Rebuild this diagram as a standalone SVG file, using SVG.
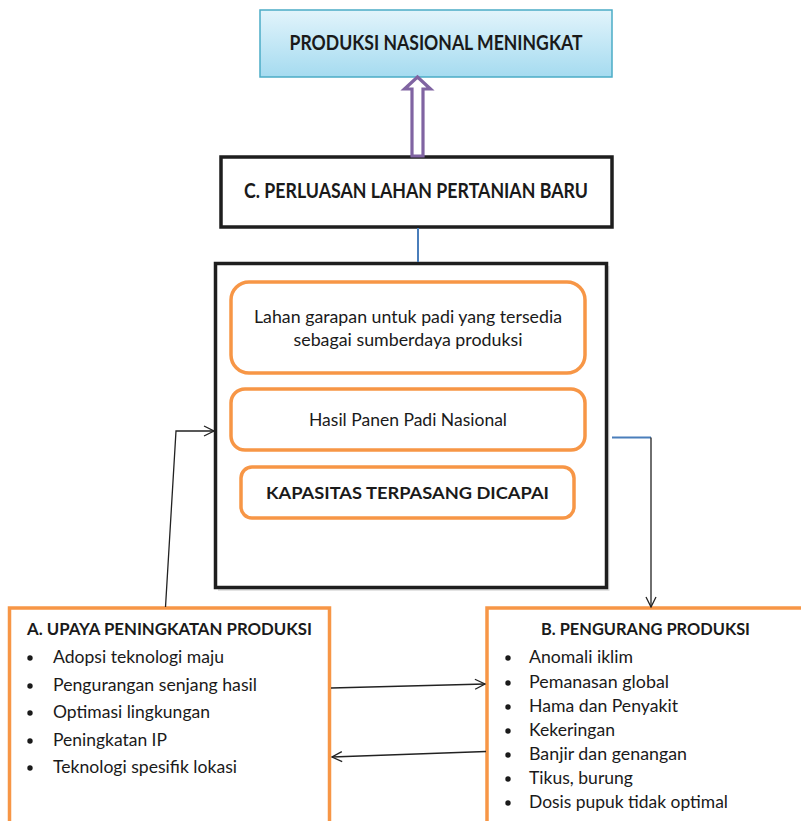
<svg xmlns="http://www.w3.org/2000/svg" width="801" height="821" viewBox="0 0 801 821">
  <defs>
    <linearGradient id="skyFill" x1="0" y1="0" x2="0" y2="1">
      <stop offset="0" stop-color="#e2f4fb"/>
      <stop offset="1" stop-color="#a5dbf0"/>
    </linearGradient>
    <marker id="openArrow" viewBox="0 0 12 12" refX="11" refY="6" markerWidth="12" markerHeight="12" markerUnits="userSpaceOnUse" orient="auto">
      <path d="M1,1 L11,6 L1,11" fill="none" stroke="#222" stroke-width="1.3"/>
    </marker>
  </defs>
  <style>
    text { font-family: Lato, "Open Sans", "Liberation Sans", sans-serif; fill: #1a1a1a; }
    .title { font-weight: bold; font-size: 21px; }
    .head { font-weight: bold; font-size: 17px; }
    .body { font-size: 16.5px; }
    .frame { fill: #fff; stroke: #1e1e1e; stroke-width: 3.5; }
    .pill { fill: #fff; stroke: #f79646; stroke-width: 3.5; }
    .panel { fill: #fff; stroke: #f79646; stroke-width: 3.5; }
    .dot { fill: #1a1a1a; }
    .link { fill: none; stroke: #222; stroke-width: 1.3; }
    .blue { fill: none; stroke: #4a7ebb; stroke-width: 2; }
  </style>

  <rect width="801" height="821" fill="#fff"/>

  <!-- goal -->
  <g id="goal">
    <rect x="260" y="10" width="352" height="67" fill="url(#skyFill)" stroke="#4bacc6" stroke-width="1.5"/>
    <text class="title" x="436" y="50" text-anchor="middle" textLength="293" lengthAdjust="spacingAndGlyphs">PRODUKSI NASIONAL MENINGKAT</text>
  </g>

  <!-- expansion strategy -->
  <g id="expansion">
    <rect class="frame" x="221" y="157" width="391" height="70"/>
    <text class="title" x="416" y="198" text-anchor="middle" textLength="344" lengthAdjust="spacingAndGlyphs">C. PERLUASAN LAHAN PERTANIAN BARU</text>
  </g>

  <!-- capacity frame with its three items -->
  <g id="capacity">
    <rect x="218" y="266" width="391.5" height="325" fill="#e3e3e3"/>
    <rect class="frame" x="215.5" y="263.5" width="391" height="324"/>
  </g>
  <g id="land">
    <rect class="pill" x="231" y="282" width="354" height="91" rx="18"/>
    <text class="body" x="408" y="323" text-anchor="middle" textLength="308" lengthAdjust="spacingAndGlyphs">Lahan garapan untuk padi yang tersedia</text>
    <text class="body" x="408" y="346" text-anchor="middle" textLength="229" lengthAdjust="spacingAndGlyphs">sebagai sumberdaya produksi</text>
  </g>
  <g id="harvest">
    <rect class="pill" x="231" y="389" width="354" height="61" rx="14"/>
    <text class="body" x="408" y="426" text-anchor="middle" textLength="198" lengthAdjust="spacingAndGlyphs">Hasil Panen Padi Nasional</text>
  </g>
  <g id="installed">
    <rect class="pill" x="241" y="467" width="333" height="51" rx="11"/>
    <text class="head" x="407.5" y="499" text-anchor="middle" textLength="283" lengthAdjust="spacingAndGlyphs">KAPASITAS TERPASANG DICAPAI</text>
  </g>

  <!-- A: production increase -->
  <g id="increase">
    <rect class="panel" x="9.5" y="608" width="320" height="230"/>
    <text class="head" x="27" y="635" textLength="285" lengthAdjust="spacingAndGlyphs">A. UPAYA PENINGKATAN PRODUKSI</text>
    <circle class="dot" cx="30" cy="658" r="2.7"/>
    <text class="body" x="53" y="663" textLength="171" lengthAdjust="spacingAndGlyphs">Adopsi teknologi maju</text>
    <circle class="dot" cx="30" cy="686" r="2.7"/>
    <text class="body" x="53" y="691" textLength="204" lengthAdjust="spacingAndGlyphs">Pengurangan senjang hasil</text>
    <circle class="dot" cx="30" cy="713" r="2.7"/>
    <text class="body" x="53" y="718" textLength="157" lengthAdjust="spacingAndGlyphs">Optimasi lingkungan</text>
    <circle class="dot" cx="30" cy="741" r="2.7"/>
    <text class="body" x="53" y="746" textLength="114" lengthAdjust="spacingAndGlyphs">Peningkatan IP</text>
    <circle class="dot" cx="30" cy="768" r="2.7"/>
    <text class="body" x="53" y="773" textLength="184" lengthAdjust="spacingAndGlyphs">Teknologi spesifik lokasi</text>
  </g>

  <!-- B: production losses -->
  <g id="losses">
    <rect class="panel" x="487" y="608" width="330" height="230"/>
    <text class="head" x="541" y="635" textLength="209" lengthAdjust="spacingAndGlyphs">B. PENGURANG PRODUKSI</text>
    <circle class="dot" cx="508" cy="658" r="2.7"/>
    <text class="body" x="529" y="663" textLength="104" lengthAdjust="spacingAndGlyphs">Anomali iklim</text>
    <circle class="dot" cx="508" cy="683" r="2.7"/>
    <text class="body" x="529" y="688" textLength="140" lengthAdjust="spacingAndGlyphs">Pemanasan global</text>
    <circle class="dot" cx="508" cy="707" r="2.7"/>
    <text class="body" x="529" y="712" textLength="149" lengthAdjust="spacingAndGlyphs">Hama dan Penyakit</text>
    <circle class="dot" cx="508" cy="731" r="2.7"/>
    <text class="body" x="529" y="736" textLength="86" lengthAdjust="spacingAndGlyphs">Kekeringan</text>
    <circle class="dot" cx="508" cy="755" r="2.7"/>
    <text class="body" x="529" y="760" textLength="158" lengthAdjust="spacingAndGlyphs">Banjir dan genangan</text>
    <circle class="dot" cx="508" cy="779" r="2.7"/>
    <text class="body" x="529" y="784" textLength="104" lengthAdjust="spacingAndGlyphs">Tikus, burung</text>
    <circle class="dot" cx="508" cy="803" r="2.7"/>
    <text class="body" x="529" y="808" textLength="199" lengthAdjust="spacingAndGlyphs">Dosis pupuk tidak optimal</text>
  </g>

  <!-- connectors -->
  <g id="connectors">
    <!-- hollow arrow: expansion up to goal -->
    <path d="M417.5,77 L404.5,89 L412,89 L412,156 L423,156 L423,89 L430.5,89 Z" fill="#fff" stroke="#8064a2" stroke-width="3.2" stroke-linejoin="miter"/>
    <!-- expansion to capacity frame -->
    <line class="blue" x1="418" y1="228" x2="418" y2="262"/>
    <!-- capacity frame to B -->
    <line class="blue" x1="612" y1="437.5" x2="651" y2="437.5"/>
    <line class="link" x1="651" y1="437.5" x2="651" y2="607" marker-end="url(#openArrow)"/>
    <!-- A up to capacity frame -->
    <polyline class="link" points="165.5,607 176,431 214,431" marker-end="url(#openArrow)"/>
    <!-- A to B and back -->
    <line class="link" x1="331" y1="688" x2="485" y2="684" marker-end="url(#openArrow)"/>
    <line class="link" x1="486" y1="751.5" x2="332" y2="757" marker-end="url(#openArrow)"/>
  </g>
</svg>
